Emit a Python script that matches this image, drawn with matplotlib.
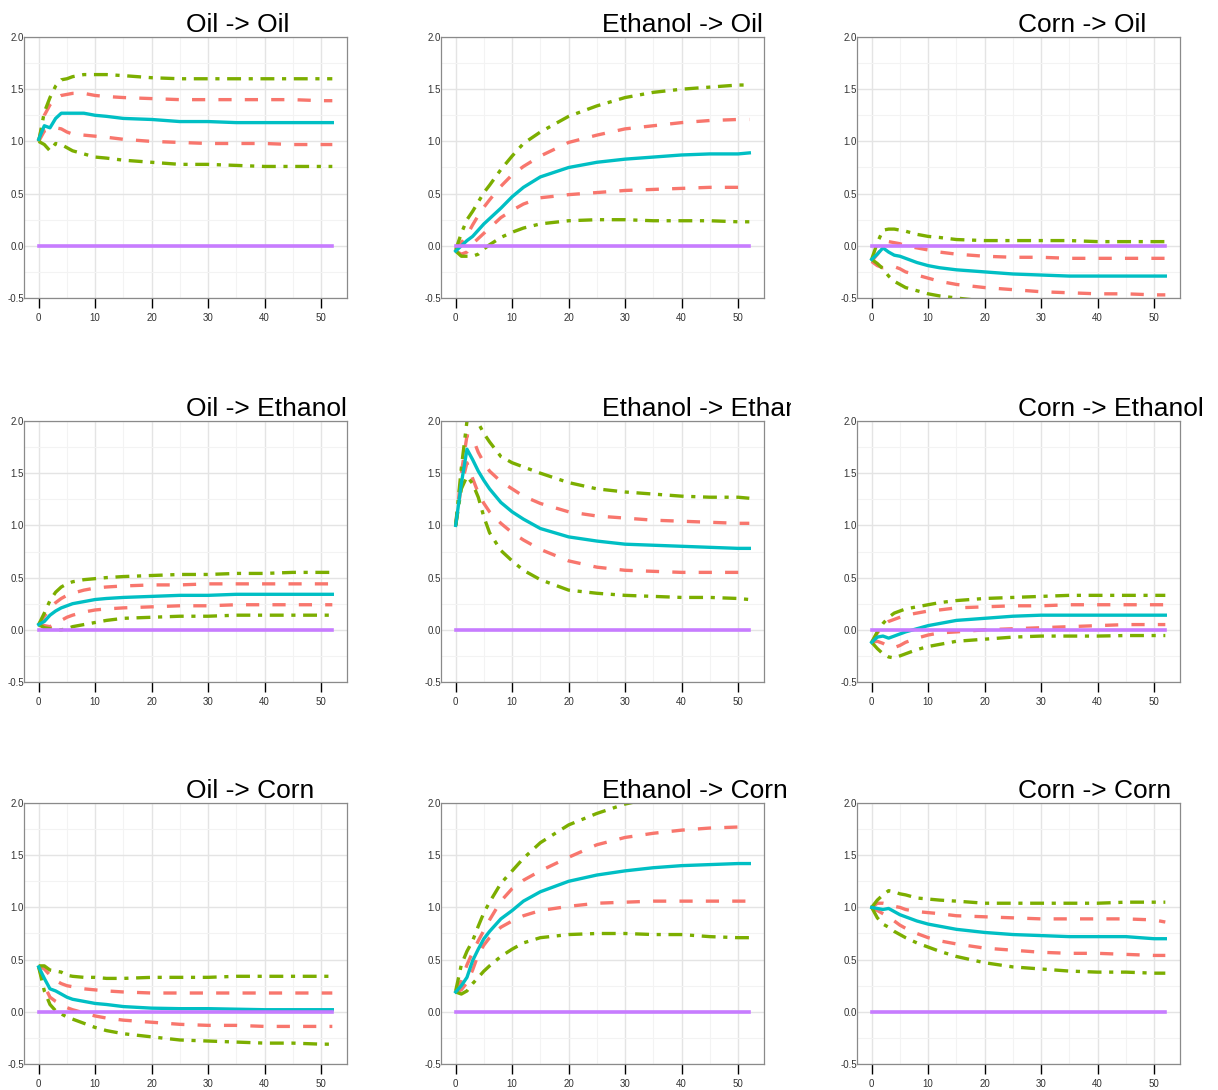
import matplotlib
matplotlib.use("Agg")
import matplotlib.pyplot as plt
from matplotlib.transforms import Bbox, TransformedBbox
from matplotlib.ticker import MultipleLocator

plt.rcParams["font.family"] = ["Liberation Sans", "DejaVu Sans"]
plt.rcParams["lines.scale_dashes"] = False

horizon = [0, 1, 2, 3, 4, 5, 6, 8, 10, 12, 15, 20, 25, 30, 35, 40, 45, 50, 52]

titles = ["Oil -> Oil", "Ethanol -> Oil", "Corn -> Oil",
          "Oil -> Ethanol", "Ethanol -> Ethanol", "Corn -> Ethanol",
          "Oil -> Corn", "Ethanol -> Corn", "Corn -> Corn"]

# point response (cyan), inner band (salmon), outer band (green)
irf_oil_oil = [1.02, 1.15, 1.13, 1.22, 1.27, 1.27, 1.27, 1.27, 1.25, 1.24, 1.22, 1.21, 1.19, 1.19, 1.18, 1.18, 1.18, 1.18, 1.18]
hi_oil_oil = [1.0, 1.25, 1.35, 1.41, 1.44, 1.45, 1.46, 1.46, 1.44, 1.43, 1.42, 1.41, 1.40, 1.40, 1.40, 1.40, 1.40, 1.39, 1.39]
lo_oil_oil = [1.0, 1.10, 1.12, 1.13, 1.12, 1.09, 1.07, 1.06, 1.05, 1.04, 1.02, 1.00, 0.99, 0.98, 0.98, 0.98, 0.97, 0.97, 0.97]
hi95_oil_oil = [1.0, 1.28, 1.42, 1.53, 1.59, 1.60, 1.62, 1.64, 1.64, 1.64, 1.63, 1.61, 1.60, 1.60, 1.60, 1.60, 1.60, 1.60, 1.60]
lo95_oil_oil = [1.0, 0.97, 0.91, 0.98, 0.97, 0.94, 0.91, 0.88, 0.85, 0.84, 0.82, 0.80, 0.78, 0.78, 0.77, 0.76, 0.76, 0.76, 0.76]

irf_eth_oil = [-0.05, 0.0, 0.05, 0.09, 0.15, 0.21, 0.26, 0.36, 0.47, 0.56, 0.66, 0.75, 0.80, 0.83, 0.85, 0.87, 0.88, 0.88, 0.89]
hi_eth_oil = [-0.05, 0.03, 0.10, 0.20, 0.29, 0.37, 0.44, 0.57, 0.68, 0.76, 0.86, 0.99, 1.06, 1.12, 1.15, 1.18, 1.20, 1.21, 1.21]
lo_eth_oil = [-0.05, -0.08, -0.06, 0.02, 0.07, 0.12, 0.17, 0.27, 0.34, 0.40, 0.46, 0.49, 0.51, 0.53, 0.54, 0.55, 0.56, 0.56, 0.56]
hi95_eth_oil = [-0.04, 0.12, 0.25, 0.33, 0.42, 0.51, 0.58, 0.73, 0.86, 0.98, 1.09, 1.24, 1.34, 1.42, 1.47, 1.50, 1.52, 1.54, 1.54]
lo95_eth_oil = [-0.05, -0.10, -0.10, -0.10, -0.08, -0.03, 0.01, 0.08, 0.13, 0.17, 0.21, 0.24, 0.25, 0.25, 0.24, 0.24, 0.24, 0.23, 0.23]

irf_corn_oil = [-0.13, -0.08, -0.02, -0.06, -0.09, -0.10, -0.12, -0.16, -0.19, -0.21, -0.23, -0.25, -0.27, -0.28, -0.29, -0.29, -0.29, -0.29, -0.29]
hi_corn_oil = [-0.15, -0.08, -0.01, 0.04, 0.03, 0.02, 0.0, -0.02, -0.04, -0.06, -0.08, -0.10, -0.11, -0.11, -0.12, -0.12, -0.12, -0.12, -0.12]
lo_corn_oil = [-0.15, -0.19, -0.21, -0.20, -0.20, -0.22, -0.25, -0.28, -0.31, -0.34, -0.37, -0.40, -0.42, -0.44, -0.45, -0.46, -0.46, -0.47, -0.47]
hi95_corn_oil = [-0.13, 0.03, 0.15, 0.16, 0.16, 0.15, 0.14, 0.11, 0.09, 0.08, 0.06, 0.05, 0.05, 0.05, 0.05, 0.04, 0.04, 0.04, 0.04]
lo95_corn_oil = [-0.13, -0.17, -0.22, -0.29, -0.34, -0.37, -0.40, -0.43, -0.46, -0.48, -0.50, -0.53, -0.55, -0.56, -0.57, -0.57, -0.58, -0.58, -0.58]

irf_oil_eth = [0.05, 0.08, 0.14, 0.18, 0.21, 0.23, 0.25, 0.27, 0.29, 0.30, 0.31, 0.32, 0.33, 0.33, 0.34, 0.34, 0.34, 0.34, 0.34]
hi_oil_eth = [0.05, 0.13, 0.20, 0.26, 0.30, 0.33, 0.35, 0.38, 0.40, 0.41, 0.42, 0.43, 0.43, 0.44, 0.44, 0.44, 0.44, 0.44, 0.44]
lo_oil_eth = [0.05, 0.04, 0.03, 0.06, 0.09, 0.12, 0.14, 0.17, 0.19, 0.20, 0.21, 0.22, 0.23, 0.23, 0.24, 0.24, 0.24, 0.24, 0.24]
hi95_oil_eth = [0.05, 0.16, 0.28, 0.36, 0.41, 0.44, 0.46, 0.48, 0.49, 0.50, 0.51, 0.52, 0.53, 0.53, 0.54, 0.54, 0.55, 0.55, 0.55]
lo95_oil_eth = [0.05, 0.02, 0.01, 0.0, 0.0, 0.01, 0.03, 0.05, 0.07, 0.09, 0.11, 0.12, 0.13, 0.13, 0.14, 0.14, 0.14, 0.14, 0.14]

irf_eth_eth = [1.0, 1.40, 1.73, 1.63, 1.52, 1.43, 1.35, 1.22, 1.13, 1.06, 0.97, 0.89, 0.85, 0.82, 0.81, 0.80, 0.79, 0.78, 0.78]
hi_eth_eth = [1.0, 1.50, 1.86, 1.84, 1.70, 1.60, 1.52, 1.42, 1.35, 1.28, 1.21, 1.13, 1.09, 1.07, 1.05, 1.04, 1.03, 1.02, 1.02]
lo_eth_eth = [1.0, 1.38, 1.60, 1.45, 1.31, 1.21, 1.13, 1.02, 0.93, 0.86, 0.77, 0.66, 0.60, 0.57, 0.56, 0.55, 0.55, 0.55, 0.55]
hi95_eth_eth = [1.0, 1.55, 2.0, 2.02, 1.98, 1.88, 1.80, 1.66, 1.60, 1.56, 1.50, 1.41, 1.35, 1.32, 1.30, 1.28, 1.27, 1.27, 1.26]
lo95_eth_eth = [1.0, 1.35, 1.47, 1.40, 1.27, 1.08, 0.93, 0.76, 0.66, 0.57, 0.48, 0.38, 0.35, 0.33, 0.32, 0.31, 0.31, 0.30, 0.29]

irf_corn_eth = [-0.12, -0.07, -0.06, -0.08, -0.06, -0.04, -0.02, 0.01, 0.04, 0.06, 0.09, 0.11, 0.13, 0.14, 0.14, 0.14, 0.14, 0.14, 0.14]
hi_corn_eth = [-0.12, -0.03, 0.04, 0.08, 0.10, 0.12, 0.14, 0.16, 0.18, 0.19, 0.21, 0.22, 0.23, 0.23, 0.24, 0.24, 0.24, 0.24, 0.24]
lo_corn_eth = [-0.12, -0.11, -0.13, -0.16, -0.17, -0.15, -0.12, -0.08, -0.05, -0.03, -0.02, 0.0, 0.01, 0.02, 0.03, 0.04, 0.05, 0.05, 0.05]
hi95_corn_eth = [-0.12, -0.02, 0.06, 0.12, 0.16, 0.18, 0.20, 0.22, 0.24, 0.26, 0.28, 0.30, 0.31, 0.32, 0.33, 0.33, 0.33, 0.33, 0.33]
lo95_corn_eth = [-0.12, -0.18, -0.23, -0.26, -0.27, -0.25, -0.23, -0.19, -0.16, -0.14, -0.11, -0.09, -0.07, -0.06, -0.06, -0.06, -0.055, -0.055, -0.055]

irf_oil_corn = [0.43, 0.32, 0.22, 0.20, 0.17, 0.14, 0.12, 0.10, 0.08, 0.07, 0.05, 0.035, 0.03, 0.03, 0.025, 0.02, 0.02, 0.02, 0.02]
hi_oil_corn = [0.44, 0.41, 0.35, 0.30, 0.27, 0.25, 0.24, 0.22, 0.21, 0.20, 0.19, 0.18, 0.18, 0.18, 0.18, 0.18, 0.18, 0.18, 0.18]
lo_oil_corn = [0.43, 0.25, 0.14, 0.10, 0.07, 0.04, 0.02, -0.01, -0.04, -0.06, -0.08, -0.10, -0.12, -0.13, -0.13, -0.14, -0.14, -0.14, -0.14]
hi95_oil_corn = [0.44, 0.44, 0.40, 0.39, 0.38, 0.35, 0.34, 0.33, 0.33, 0.32, 0.32, 0.33, 0.33, 0.33, 0.34, 0.34, 0.34, 0.34, 0.34]
lo95_oil_corn = [0.43, 0.20, 0.07, 0.01, -0.02, -0.05, -0.07, -0.11, -0.15, -0.18, -0.21, -0.24, -0.27, -0.28, -0.29, -0.30, -0.30, -0.31, -0.31]

irf_eth_corn = [0.19, 0.25, 0.33, 0.49, 0.60, 0.70, 0.77, 0.89, 0.97, 1.06, 1.15, 1.25, 1.31, 1.35, 1.38, 1.40, 1.41, 1.42, 1.42]
hi_eth_corn = [0.19, 0.30, 0.45, 0.57, 0.68, 0.78, 0.88, 1.06, 1.18, 1.26, 1.35, 1.48, 1.60, 1.67, 1.71, 1.74, 1.76, 1.77, 1.77]
lo_eth_corn = [0.19, 0.21, 0.28, 0.40, 0.55, 0.64, 0.71, 0.81, 0.87, 0.92, 0.97, 1.01, 1.04, 1.05, 1.06, 1.06, 1.06, 1.06, 1.06]
hi95_eth_corn = [0.20, 0.45, 0.58, 0.68, 0.82, 0.95, 1.05, 1.23, 1.35, 1.47, 1.62, 1.79, 1.90, 1.99, 2.05, 2.10, 2.13, 2.15, 2.15]
lo95_eth_corn = [0.19, 0.17, 0.20, 0.27, 0.33, 0.39, 0.44, 0.53, 0.60, 0.66, 0.71, 0.74, 0.75, 0.75, 0.74, 0.74, 0.72, 0.71, 0.71]

irf_corn_corn = [1.0, 0.99, 0.98, 0.99, 0.96, 0.93, 0.91, 0.87, 0.84, 0.82, 0.79, 0.76, 0.74, 0.73, 0.72, 0.72, 0.72, 0.70, 0.70]
hi_corn_corn = [1.0, 1.04, 1.04, 1.03, 1.01, 1.0, 0.98, 0.96, 0.95, 0.94, 0.92, 0.91, 0.90, 0.89, 0.89, 0.89, 0.89, 0.88, 0.86]
lo_corn_corn = [1.0, 0.97, 0.94, 0.91, 0.87, 0.83, 0.80, 0.75, 0.71, 0.68, 0.65, 0.61, 0.59, 0.57, 0.56, 0.56, 0.55, 0.54, 0.54]
hi95_corn_corn = [1.0, 1.07, 1.12, 1.16, 1.15, 1.13, 1.12, 1.09, 1.08, 1.07, 1.06, 1.04, 1.04, 1.04, 1.04, 1.04, 1.05, 1.05, 1.05]
lo95_corn_corn = [1.0, 0.90, 0.84, 0.81, 0.77, 0.74, 0.71, 0.66, 0.62, 0.58, 0.53, 0.47, 0.43, 0.41, 0.39, 0.38, 0.38, 0.37, 0.37]

zero_line = [0.0] * len(horizon)

panels = [
    (irf_oil_oil, hi_oil_oil, lo_oil_oil, hi95_oil_oil, lo95_oil_oil),
    (irf_eth_oil, hi_eth_oil, lo_eth_oil, hi95_eth_oil, lo95_eth_oil),
    (irf_corn_oil, hi_corn_oil, lo_corn_oil, hi95_corn_oil, lo95_corn_oil),
    (irf_oil_eth, hi_oil_eth, lo_oil_eth, hi95_oil_eth, lo95_oil_eth),
    (irf_eth_eth, hi_eth_eth, lo_eth_eth, hi95_eth_eth, lo95_eth_eth),
    (irf_corn_eth, hi_corn_eth, lo_corn_eth, hi95_corn_eth, lo95_corn_eth),
    (irf_oil_corn, hi_oil_corn, lo_oil_corn, hi95_oil_corn, lo95_oil_corn),
    (irf_eth_corn, hi_eth_corn, lo_eth_corn, hi95_eth_corn, lo95_eth_corn),
    (irf_corn_corn, hi_corn_corn, lo_corn_corn, hi95_corn_corn, lo95_corn_corn),
]

W, H = 1218, 1090
col_left = [24, 441, 857]
row_top = [37, 421, 803]
pw, ph = 323, 261
clip_right = [406, 791, 1218]

fig = plt.figure(figsize=(W / 100, H / 100), dpi=100)

for i, (irf, hi, lo, hi95, lo95) in enumerate(panels):
    r, c = divmod(i, 3)
    x0, top = col_left[c], row_top[r]
    ax = fig.add_axes([x0 / W, (H - top - ph) / H, pw / W, ph / H])

    ax.plot(horizon, hi, color="#F8766D", lw=2.4, ls=(0, (9.5, 9.5)))
    ax.plot(horizon, lo, color="#F8766D", lw=2.4, ls=(0, (9.5, 9.5)))
    ax.plot(horizon, hi95, color="#7CAE00", lw=2.4, ls=(0, (10, 5.5, 3, 5.5)))
    ax.plot(horizon, lo95, color="#7CAE00", lw=2.4, ls=(0, (10, 5.5, 3, 5.5)))
    ax.plot(horizon, irf, color="#00BFC4", lw=2.4)
    ax.plot(horizon, zero_line, color="#C77CFF", lw=2.6)

    ax.set_xlim(-2.6, 54.6)
    ax.set_ylim(-0.5, 2.0)
    ax.xaxis.set_major_locator(MultipleLocator(10))
    ax.xaxis.set_minor_locator(MultipleLocator(5))
    ax.yaxis.set_major_locator(MultipleLocator(0.5))
    ax.yaxis.set_minor_locator(MultipleLocator(0.25))
    ax.set_yticks([-0.5, 0.0, 0.5, 1.0, 1.5, 2.0])
    ax.set_yticklabels(["-0.5", "0.0", "0.5", "1.0", "1.5", "2.0"])
    ax.grid(which="major", color="#e4e4e4", lw=1.0)
    ax.grid(which="minor", color="#f3f3f3", lw=0.8)
    ax.set_axisbelow(True)
    for sp in ax.spines.values():
        sp.set_color("#8a8a8a")
        sp.set_linewidth(0.9)
    ax.tick_params(axis="x", which="major", length=7, width=1, color="black",
                   labelsize=7, labelcolor="#333333", pad=3.5)
    ax.tick_params(axis="y", which="major", length=0, labelsize=7,
                   labelcolor="#333333", pad=0)
    ax.tick_params(which="minor", length=0)

    t = fig.text((x0 + pw / 2) / W, (H - top + 5) / H, titles[i],
                 fontsize=19, ha="left", va="baseline")
    clip = TransformedBbox(Bbox([[0, 0], [clip_right[c] / W, 1]]), fig.transFigure)
    t.set_clip_box(clip)
    t.set_clip_on(True)

fig.savefig("out.png", dpi=100)
